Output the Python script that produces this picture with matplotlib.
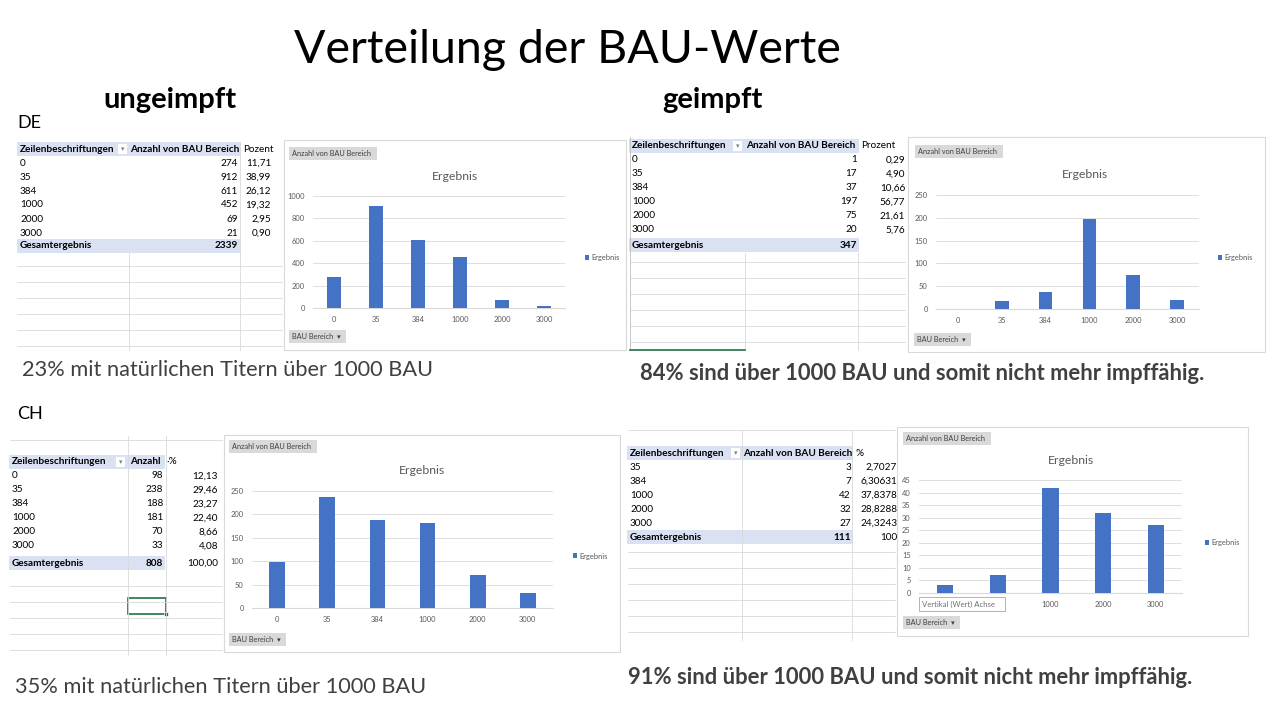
import matplotlib.pyplot as plt
from matplotlib.patches import Rectangle

W, H = 1270, 715
plt.rcParams['font.family'] = ['Lato', 'DejaVu Sans']

# DE ungeimpft
de_u_bau = ["0", "35", "384", "1000", "2000", "3000"]
de_u_anzahl = [274, 912, 611, 452, 69, 21]
de_u_pct = ["11,71", "38,99", "26,12", "19,32", "2,95", "0,90"]
de_u_total = 2339
de_u_total_pct = ""

# DE geimpft
de_g_bau = ["0", "35", "384", "1000", "2000", "3000"]
de_g_anzahl = [1, 17, 37, 197, 75, 20]
de_g_pct = ["0,29", "4,90", "10,66", "56,77", "21,61", "5,76"]
de_g_total = 347
de_g_total_pct = ""

# CH ungeimpft
ch_u_bau = ["0", "35", "384", "1000", "2000", "3000"]
ch_u_anzahl = [98, 238, 188, 181, 70, 33]
ch_u_pct = ["12,13", "29,46", "23,27", "22,40", "8,66", "4,08"]
ch_u_total = 808
ch_u_total_pct = "100,00"

# CH geimpft
ch_g_bau = ["35", "384", "1000", "2000", "3000"]
ch_g_anzahl = [3, 7, 42, 32, 27]
ch_g_pct = ["2,7027", "6,30631", "37,8378", "28,8288", "24,3243"]
ch_g_total = 111
ch_g_total_pct = "100"

BLUE = "#4472C4"
BAND = "#D9E1F2"
GRID = "#D9D9D9"
TXT = "#595959"
FS = 7.2  # table font size

fig = plt.figure(figsize=(12.7, 7.15), dpi=100)


def fx(x):
    return x / W


def fy(y):
    return 1 - y / H


def txt(x, y, s, size, **kw):
    kw.setdefault("va", "center")
    return fig.text(fx(x), fy(y), s, fontsize=size, **kw)


def box(x0, y0, x1, y1, **kw):
    fig.patches.append(Rectangle((fx(x0), fy(y1)), (x1 - x0) / W, (y1 - y0) / H,
                                 transform=fig.transFigure, **kw))


def hline(x0, x1, y, color=GRID, lw=0.6):
    fig.add_artist(plt.Line2D([fx(x0), fx(x1)], [fy(y), fy(y)], color=color, lw=lw,
                              transform=fig.transFigure))


def vline(x, y0, y1, color=GRID, lw=0.6):
    fig.add_artist(plt.Line2D([fx(x), fx(x)], [fy(y0), fy(y1)], color=color, lw=lw,
                              transform=fig.transFigure))


def table(x0, yh, band_r, dd_x, anz_x, anz_head, val_r, pct_x, pct_head, pct_r,
          bau, anzahl, pct, total, total_pct, y_total):
    box(x0 - 3, yh - 7, band_r, yh + 7, facecolor=BAND, edgecolor="none")
    txt(x0, yh, "Zeilenbeschriftungen", FS, weight="bold")
    box(dd_x, yh - 5, dd_x + 9, yh + 5, facecolor="white", edgecolor="none")
    txt(dd_x + 4.5, yh, "▾", 5, ha="center", color="#808080")
    txt(anz_x, yh, anz_head, FS, weight="bold")
    txt(pct_x, yh, pct_head, FS)
    for i, (b, a, p) in enumerate(zip(bau, anzahl, pct)):
        y = yh + 14 * (i + 1)
        txt(x0, y, b, FS)
        txt(val_r, y, str(a), FS, ha="right")
        txt(pct_r, y, p, FS, ha="right")
    box(x0 - 3, y_total - 7, band_r, y_total + 7, facecolor=BAND, edgecolor="none")
    txt(x0, y_total, "Gesamtergebnis", FS, weight="bold")
    txt(val_r, y_total, str(total), FS, ha="right", weight="bold")
    txt(pct_r, y_total, total_pct, FS, ha="right")


def chart(frame, button1, button2, title_xy, plot, bau, anzahl, yticks, legend_xy):
    box(*frame, facecolor="white", edgecolor=GRID, lw=0.8)
    bx0, by0 = button1
    box(bx0, by0, bx0 + 88, by0 + 13, facecolor="#D9D9D9", edgecolor="none")
    txt(bx0 + 3, by0 + 6.5, "Anzahl von BAU Bereich", 5.3, color="#404040")
    bx0, by0 = button2
    box(bx0, by0, bx0 + 57, by0 + 13, facecolor="#D9D9D9", edgecolor="none")
    txt(bx0 + 3, by0 + 6.5, "BAU Bereich  ▾", 5.3, color="#404040")
    txt(title_xy[0], title_xy[1], "Ergebnis", 8.8, ha="center", color=TXT)
    left, top, right, bottom = plot
    ax = fig.add_axes([fx(left), fy(bottom), (right - left) / W, (bottom - top) / H])
    ax.set_zorder(3)
    pos = range(len(bau))
    ax.bar(pos, anzahl, width=0.31, color=BLUE, label="Ergebnis", zorder=3)
    ax.set_xlim(-0.5, len(bau) - 0.5)
    ax.set_ylim(yticks[0], yticks[-1])
    ax.set_xticks(list(pos))
    ax.set_xticklabels(bau)
    ax.set_yticks(yticks)
    ax.tick_params(length=0, labelsize=5.4, labelcolor=TXT, pad=6)
    ax.grid(axis="y", color=GRID, lw=0.6, zorder=0)
    for s in ax.spines.values():
        s.set_visible(False)
    ax.spines["bottom"].set_visible(True)
    ax.spines["bottom"].set_color(GRID)
    ax.patch.set_alpha(0)
    ax.legend(loc="center left", bbox_to_anchor=(fx(legend_xy[0]), fy(legend_xy[1])),
              bbox_transform=fig.transFigure, frameon=False, fontsize=5.4,
              handlelength=0.6, handleheight=0.6, handletextpad=0.3, labelcolor=TXT)
    return ax


# spreadsheet grid behind the tables
for y in range(266, 350, 16):
    hline(17, 282, y)
vline(129, 253, 350)
vline(240, 142, 350)
for y in range(262, 350, 16):
    hline(630, 905, y)
vline(630, 137, 350, color="#BFBFBF")
vline(745, 253, 350)
vline(858, 253, 350)
hline(630, 745, 350, color="#217346", lw=1.2)
for y in [440, 586, 602, 618, 634, 650]:
    hline(10, 222, y)
vline(128, 436, 655)
vline(166, 436, 655)
for y in [430, 552, 568, 584, 600, 616, 632]:
    hline(628, 895, y)
vline(742, 430, 640)
vline(852, 430, 640)

table(20, 149, 241, 118, 130, "Anzahl von BAU Bereich", 238, 243, "Pozent", 271,
      de_u_bau, de_u_anzahl, de_u_pct, de_u_total, de_u_total_pct, 246)
table(632, 146, 859, 733, 746, "Anzahl von BAU Bereich", 857, 861, "Prozent", 905,
      de_g_bau, de_g_anzahl, de_g_pct, de_g_total, de_g_total_pct, 245)
table(12, 462, 165, 116, 130, "Anzahl", 163, 166, "·%", 218,
      ch_u_bau, ch_u_anzahl, ch_u_pct, ch_u_total, ch_u_total_pct, 563)
table(630, 453, 853, 731, 743, "Anzahl von BAU Bereich", 851, 855, "%", 897,
      ch_g_bau, ch_g_anzahl, ch_g_pct, ch_g_total, ch_g_total_pct, 537)

box(128, 598, 166, 614, facecolor="none", edgecolor="#217346", lw=1.2)
box(164, 612, 168, 616, facecolor="#217346", edgecolor="white", lw=0.5)

chart((284, 140, 626, 350), (289, 147), (289, 330), (455, 177), (313, 196, 565, 308),
      de_u_bau, de_u_anzahl, [0, 200, 400, 600, 800, 1000], (578, 258))
chart((908, 137, 1265, 352), (915, 145), (914, 333), (1085, 174), (936, 195, 1199, 309),
      de_g_bau, de_g_anzahl, [0, 50, 100, 150, 200, 250], (1211, 258))
chart((224, 435, 620, 652), (229, 440), (229, 633), (422, 470), (252, 491, 553, 608),
      ch_u_bau, ch_u_anzahl, [0, 50, 100, 150, 200, 250], (566, 556))
ax_chg = chart((897, 427, 1248, 636), (903, 432), (903, 616), (1071, 461),
               (919, 480, 1182, 593), ch_g_bau, ch_g_anzahl,
               [0, 5, 10, 15, 20, 25, 30, 35, 40, 45], (1198, 543))

# tooltip covers the first two category labels of the CH geimpft chart
for lab in ax_chg.get_xticklabels()[:2]:
    lab.set_visible(False)
fig.patches.append(Rectangle((fx(919), fy(611)), 86 / W, 14 / H, transform=fig.transFigure,
                             facecolor="white", edgecolor="#A6A6A6", lw=0.6, zorder=5))
t = txt(922, 604, "Vertikal (Wert) Achse", 5.6, color="#707070")
t.set_zorder(6)

# slide texts
txt(567, 50, "Verteilung der BAU-Werte", 33.5, ha="center")
txt(103, 100, "ungeimpft", 21, weight="bold")
txt(662, 100, "geimpft", 21, weight="bold")
txt(17, 123, "DE", 13)
txt(17, 414, "CH", 13)
txt(22, 370, "23% mit natürlichen Titern über 1000 BAU", 15.7, color="#404040")
txt(640, 374, "84% sind über 1000 BAU und somit nicht mehr impffähig.", 15.8,
    weight="bold", color="#404040")
txt(15, 687, "35% mit natürlichen Titern über 1000 BAU", 15.7, color="#404040")
txt(628, 678, "91% sind über 1000 BAU und somit nicht mehr impffähig.", 15.8,
    weight="bold", color="#404040")

fig.savefig("out.png", dpi=100)
